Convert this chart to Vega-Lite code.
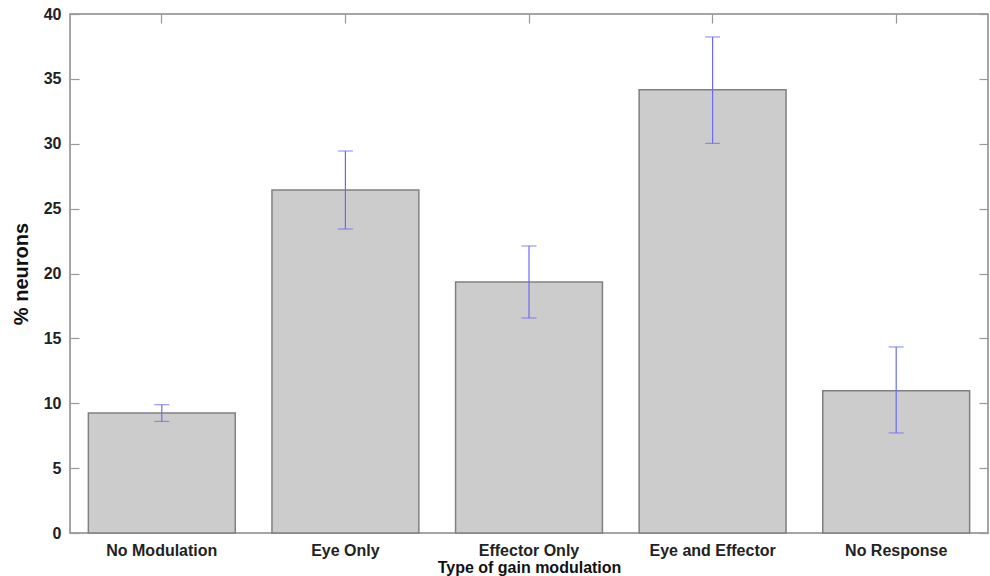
{
  "$schema": "https://vega.github.io/schema/vega-lite/v6.json",
  "width": 918,
  "height": 519,
  "autosize": "none",
  "padding": {"left": 70, "top": 14, "right": 2, "bottom": 43},
  "background": "white",
  "config": {
    "view": {"stroke": "#888888", "strokeWidth": 1.5},
    "axis": {
      "labelFont": "Liberation Sans",
      "titleFont": "Liberation Sans",
      "labelFontWeight": "bold",
      "titleFontWeight": "bold",
      "labelFontSize": 16,
      "titleFontSize": 16,
      "labelColor": "#222222",
      "titleColor": "#111111",
      "domain": false,
      "grid": false,
      "tickColor": "#999999",
      "tickSize": -9,
      "tickWidth": 1.2
    }
  },
  "data": {
    "values": [
      {"cat": "No Modulation", "value": 9.25, "lo": 8.6, "hi": 9.89},
      {"cat": "Eye Only", "value": 26.44, "lo": 23.43, "hi": 29.44},
      {"cat": "Effector Only", "value": 19.34, "lo": 16.57, "hi": 22.12},
      {"cat": "Eye and Effector", "value": 34.17, "lo": 30.03, "hi": 38.23},
      {"cat": "No Response", "value": 10.97, "lo": 7.71, "hi": 14.34}
    ]
  },
  "layer": [
    {
      "mark": {"type": "bar", "fill": "#cccccc", "stroke": "#808080", "strokeWidth": 1.5},
      "encoding": {
        "x": {
          "field": "cat", "type": "nominal", "sort": null,
          "scale": {"paddingInner": 0.2, "paddingOuter": 0.1},
          "axis": {"labelAngle": 0, "title": "Type of gain modulation", "labelPadding": 18, "titlePadding": 1}
        },
        "y": {
          "field": "value", "type": "quantitative",
          "scale": {"domain": [0, 40], "nice": false},
          "axis": {"title": "% neurons", "values": [0, 5, 10, 15, 20, 25, 30, 35, 40], "labelPadding": 18, "titlePadding": 12, "titleFontSize": 20}
        }
      }
    },
    {
      "mark": {"type": "rule", "color": "#6b6bf5", "strokeWidth": 1.2},
      "encoding": {
        "x": {"field": "cat", "type": "nominal", "sort": null, "axis": {"orient": "top", "labels": false, "title": null}},
        "y": {"field": "lo", "type": "quantitative", "axis": {"orient": "right", "labels": false, "title": null, "values": [0, 5, 10, 15, 20, 25, 30, 35, 40]}},
        "y2": {"field": "hi"}
      }
    },
    {
      "mark": {"type": "tick", "color": "#6b6bf5", "size": 15, "thickness": 1.2},
      "encoding": {
        "x": {"field": "cat", "type": "nominal", "sort": null, "axis": null},
        "y": {"field": "lo", "type": "quantitative", "axis": null}
      }
    },
    {
      "mark": {"type": "tick", "color": "#6b6bf5", "size": 15, "thickness": 1.2},
      "encoding": {
        "x": {"field": "cat", "type": "nominal", "sort": null, "axis": null},
        "y": {"field": "hi", "type": "quantitative", "axis": null}
      }
    }
  ],
  "resolve": {"axis": {"x": "independent", "y": "independent"}}
}
